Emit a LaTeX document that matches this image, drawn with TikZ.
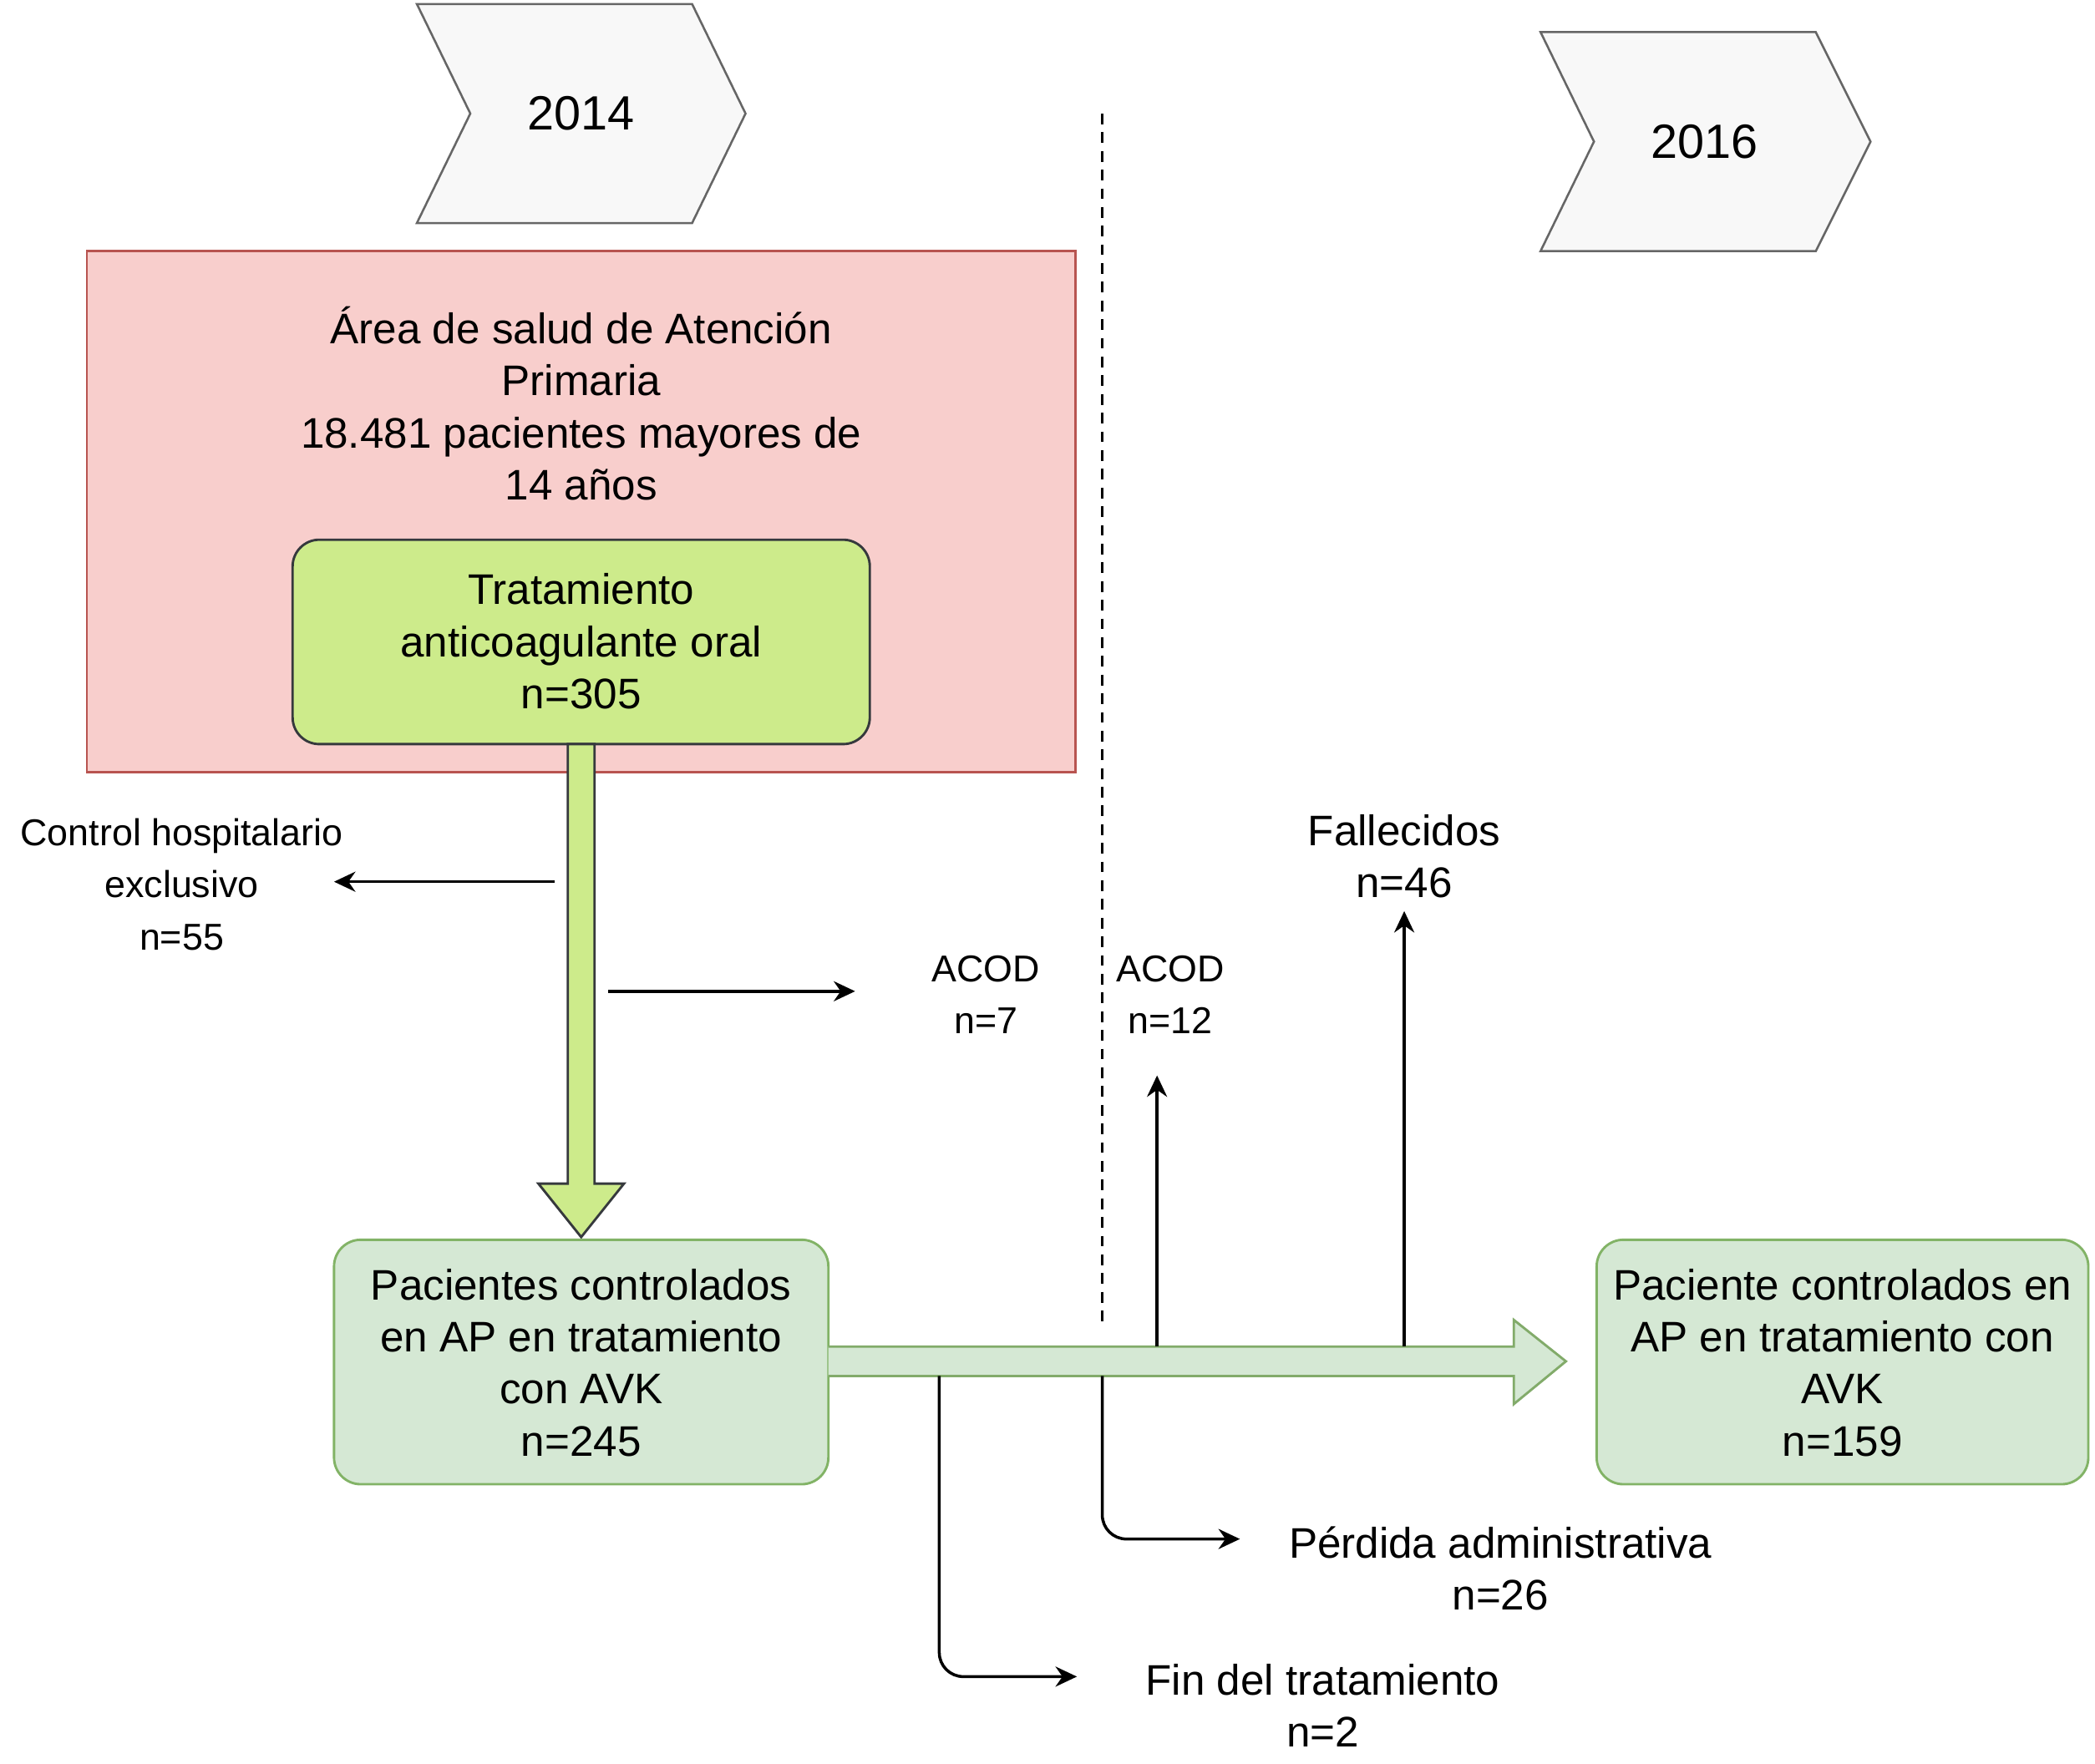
\documentclass[tikz,border=0pt]{standalone}
\usepackage{fontspec}
\setmainfont{Liberation Sans}
\usetikzlibrary{arrows.meta}
\definecolor{pinkfill}{HTML}{F8CECC}
\definecolor{pinkline}{HTML}{B85450}
\definecolor{limefill}{HTML}{CDEB8B}
\definecolor{darkline}{HTML}{36393D}
\definecolor{mintfill}{HTML}{D5E8D4}
\definecolor{mintline}{HTML}{82B366}
\definecolor{chevfill}{HTML}{F8F8F8}
\definecolor{chevline}{HTML}{666666}
\begin{document}
\begin{tikzpicture}[x=0.5pt,y=-0.5pt,
  bigtxt/.style={font=\fontsize{16}{19.5}\selectfont, align=center, inner sep=0pt, text=black},
  smalltxt/.style={font=\fontsize{14}{19.5}\selectfont, align=center, inner sep=0pt, text=black},
  yeartxt/.style={font=\fontsize{18}{21}\selectfont, inner sep=0pt, text=black},
  chevron/.style={fill=chevfill, draw=chevline, line width=0.8pt, line join=miter},
  pinkbox/.style={rectangle, fill=pinkfill, draw=pinkline, line width=0.8pt},
  limebox/.style={rectangle, rounded corners=10pt, fill=limefill, draw=darkline, line width=0.9pt, inner sep=0pt},
  mintbox/.style={rectangle, rounded corners=10pt, fill=mintfill, draw=mintline, line width=0.9pt, inner sep=0pt},
  thinarrow/.style={draw=black, line width=1.1pt, -{Stealth[length=8pt,width=7.5pt]}},
]
\useasboundingbox (0,0) rectangle (1568,1320);

% chevrons
\draw[chevron] (312,3) -- (518,3) -- (558,85) -- (518,167) -- (312,167) -- (352,85) -- cycle;
\node[yeartxt] (y2014) at (435,85) {2014};
\draw[chevron] (1153,24) -- (1359,24) -- (1400,106) -- (1359,188) -- (1153,188) -- (1193,106) -- cycle;
\node[yeartxt] (y2016) at (1276,106) {2016};

% dashed separator
\coordinate (dashtop) at (825,85);
\coordinate (dashbot) at (825,990);
\draw[dashed, line width=0.9pt, dash pattern=on 4pt off 3pt] (dashtop) -- (dashbot);

% pink area
\node[pinkbox, minimum width=370pt, minimum height=195pt] (area) at (435,383) {};
\node[bigtxt] (areatxt) at (435,302) {Área de salud de Atención\\Primaria\\18.481 pacientes mayores de\\14 años};

% lime box
\node[limebox, minimum width=216pt, minimum height=76.5pt] (tao) at (435,480.5) {};
\node[bigtxt] (taotxt) at (435,480) {Tratamiento\\anticoagulante oral\\n=305};

% big vertical arrow
\draw[fill=limefill, draw=darkline, line width=0.9pt, line join=miter]
  (425,557) -- (445,557) -- (445,886) -- (467,886) -- (435,926) -- (403,886) -- (425,886) -- cycle;

% box 2
\node[mintbox, minimum width=185pt, minimum height=91.5pt] (avk1) at (435,1019.5) {};
\node[bigtxt] (avk1txt) at (435,1020) {Pacientes controlados\\en AP en tratamiento\\con AVK\\n=245};

% box 3
\node[mintbox, minimum width=184pt, minimum height=91.5pt] (avk2) at (1379,1019.5) {};
\node[bigtxt] (avk2txt) at (1379,1020) {Paciente controlados en\\AP en tratamiento con\\AVK\\n=159};

% big horizontal arrow
\draw[fill=mintfill, draw=mintline!85!gray, line width=0.9pt, line join=miter]
  (620,1008) -- (1133,1008) -- (1133,988) -- (1172,1019) -- (1133,1051) -- (1133,1030) -- (620,1030);

% labels
\node[smalltxt] (hosp) at (136,662) {Control hospitalario\\exclusivo\\n=55};
\node[smalltxt] (acod7) at (738,744.5) {ACOD\\n=7};
\node[smalltxt] (acod12) at (876,744.5) {ACOD\\n=12};
\node[bigtxt] (fall) at (1051,641) {Fallecidos\\n=46};
\node[bigtxt] (perd) at (1123,1174) {Pérdida administrativa\\n=26};
\node[bigtxt] (fin) at (990,1276.5) {Fin del tratamiento\\n=2};

% thin arrows
\coordinate (hospS) at (415,660);
\coordinate (hospE) at (250,660);
\draw[thinarrow] (hospS) -- (hospE);
\coordinate (acod7S) at (455,742);
\coordinate (acod7E) at (640,742);
\draw[thinarrow] (acod7S) -- (acod7E);
\coordinate (acod12S) at (866,1008);
\coordinate (acod12E) at (866,805);
\draw[thinarrow] (acod12S) -- (acod12E);
\coordinate (fallS) at (1051,1008);
\coordinate (fallE) at (1051,682);
\draw[thinarrow] (fallS) -- (fallE);
\coordinate (perdS) at (825,1030);
\coordinate (perdE) at (928,1152);
\draw[thinarrow, rounded corners=9pt] (perdS) |- (perdE);
\coordinate (finS) at (703,1030);
\coordinate (finE) at (806,1255);
\draw[thinarrow, rounded corners=9pt] (finS) |- (finE);
\end{tikzpicture}
\end{document}
